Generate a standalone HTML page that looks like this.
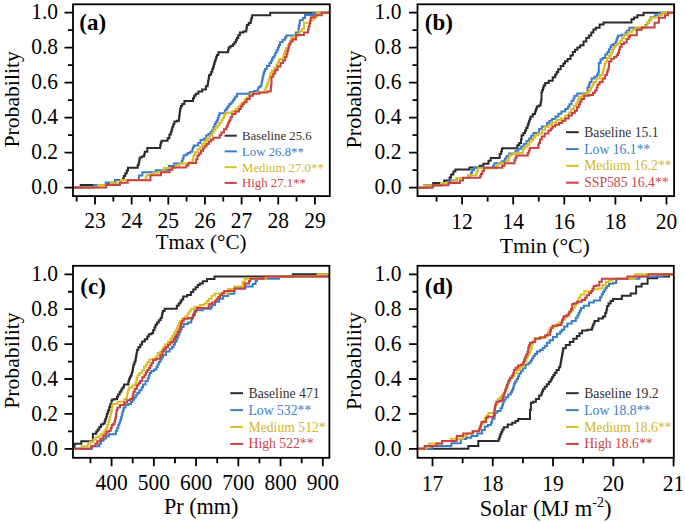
<!DOCTYPE html>
<html><head><meta charset="utf-8"><style>
html,body{margin:0;padding:0;background:#fff;overflow:hidden;}
svg{display:block;}
.t{font-family:"Liberation Serif",serif;fill:#000;}
.pl{font-family:"Liberation Serif",serif;font-weight:bold;fill:#000;}
.lg{font-family:"Liberation Serif",serif;}
</style></head><body>
<svg width="685" height="523" viewBox="0 0 685 523">
<rect width="685" height="523" fill="#fff"/>
<clipPath id="ca"><rect x="73" y="4.3" width="256.8" height="191.8"/></clipPath>
<g clip-path="url(#ca)" fill="none" stroke-width="2.0" stroke-linejoin="miter" stroke-linecap="butt">
<path stroke="#2b2b2b" d="M73.0,187.6H80.7V185.0H106.0V182.7H115.0V180.1H123.0V178.4H123.8V175.9H125.3V173.3H126.1H126.8V170.5H128.0V167.7H128.7H136.9H137.7V165.1H138.4H138.7V162.6H139.2V160.1H139.7V157.6H140.0H141.8V156.5H143.7H144.1V154.2H144.8V151.8H145.2H147.3V148.1H149.4H160.0H160.2V145.2H160.8V142.4H161.0H161.6V140.8H162.1H166.8H167.6V138.2H168.4H169.4V134.5H170.4H170.8V131.9H171.6V129.4H172.3V126.8H172.7H173.3V124.2H174.4V121.5H175.0H176.9V120.7H178.8H179.0V118.2H179.2V115.7H179.6V113.2H179.9V110.7H180.2V108.2H180.3H180.9V106.1H182.2V103.9H182.8H184.4V101.1H186.1H192.5H193.0V98.2H194.1V95.8H194.6H195.7V93.7H196.8H198.4V91.5H200.0H202.2V89.4H204.3H205.9V86.2H207.5H207.7V83.5H208.1V80.8H208.6V78.2H209.0V75.5H209.2H209.9V74.4H210.7H211.2V71.7H212.3V69.0H212.8H213.2V66.5H213.9V64.0H214.6V61.5H215.0H215.3V59.4H216.1V57.2H216.8V55.1H217.1H218.4V52.3H219.7H227.8H228.1V50.0H228.6V47.6H228.9H230.5V46.1H232.1H232.9V44.2H234.5V42.3H235.3H235.9V40.1H236.9V38.0H237.5H238.3V35.3H239.9V32.6H240.7H243.3V31.6H246.0H246.2V29.4H246.6V27.3H246.9V25.1H247.1H248.7V23.0H250.3H250.7V20.6H251.3V18.3H251.7H252.1V15.2H252.6H270.2V12.7H331.0"/>
<path stroke="#3a7cc8" d="M73.0,187.6H94.0V185.0H105.7V182.7H115.4V180.1H138.9V175.5H142.4V172.3H145.8H155.8V170.2H156.3H164.7H168.9V166.0H173.1H173.9V163.4H174.7H181.5H181.9V160.8H182.7V158.6H183.1H183.6V155.5H184.1H185.7V154.4H187.3H187.8V152.9H188.3H190.2V151.8H192.0H192.3V149.7H192.8V147.6H193.1H193.8V145.5H194.6H197.3H198.1V142.9H198.8H200.5V140.0H202.2H204.1V138.5H206.1V135.5H206.8H208.4V133.9H209.9H210.7V132.0H212.2V130.1H212.9H213.5V127.0H214.6V124.0H215.2H215.8V122.1H216.9V120.2H217.5H217.9V117.9H218.7V115.6H219.4V113.3H219.8H223.6H224.8V110.2H225.9H226.5V108.3H227.6V106.4H228.2H229.3V104.1H230.5H231.3V102.2H232.8V100.3H233.6H234.2V98.4H235.3V96.5H235.9H237.1V93.7H238.2H248.9H249.7V91.9H250.4H253.9V91.1H257.3H257.7V89.2H258.4V87.3H258.8H260.0V86.3H261.2H261.4V83.9H261.8V81.5H262.3V79.2H262.7V76.8H262.9H263.4V73.4H263.8H264.2V71.2H265.1V69.1H265.5H266.8V66.1H269.4V63.1H270.7H271.1V61.0H272.0V58.8H272.4H273.2V57.0H274.1H274.5V54.9H275.4V52.8H275.8H276.6V50.2H277.5H277.9V47.6H278.9V45.0H279.3H280.1V41.9H281.0H282.7V39.8H284.4H285.0V37.6H286.4V35.5H287.0H295.8V32.5H298.6V28.2H298.9V25.8H299.5V23.3H299.8V20.2H300.7H302.8V18.1H303.5H305.0V15.1H306.5H313.0V12.7H331.0"/>
<path stroke="#dcbe22" d="M73.0,187.6H98.0V185.0H110.8V182.7H121.0V180.1H145.2H145.6V177.8H146.4V175.5H146.8H148.1V174.7H149.4H153.4V172.8H157.3H158.1V172.0H158.9H161.2V171.3H163.6H164.1V168.1H164.7H173.1H175.3V165.6H179.8V163.4H182.0H187.8H190.1V162.2H192.3H192.6V159.9H193.1V157.6H193.6V155.3H193.8H194.9V152.3H196.1H197.6V149.2H199.2H200.2V146.7H202.2V144.1H204.3V141.6H205.3H206.8V138.5H208.3H209.9V135.5H211.4H212.2V132.8H213.7V130.1H214.5H215.4V127.8H217.4V125.5H218.3H219.2V122.8H221.2V120.2H222.1H222.7V117.9H224.0V115.6H225.3V113.3H225.9H228.2V112.5H230.5H232.4V111.0H234.3H235.7V108.7H238.3V106.4H239.7H240.5V104.5H242.0V102.6H242.8H244.7V99.5H246.6H247.3V97.6H248.8V95.7H249.6H251.1V93.4H252.7H258.0V92.6H263.4H264.5V89.6H265.7V87.2H266.4H266.8V84.9H267.6V82.6H268.5V80.3H268.9H269.2V78.0H269.8V75.7H270.4V73.4H270.7H271.9V70.8H273.2H274.3V67.8H276.4V64.8H277.5H277.9V62.2H278.9V59.6H279.3H281.0V58.8H282.7H283.1V56.2H284.0V53.6H284.9V51.0H285.3H286.1V48.1H287.9V45.3H289.5V42.4H290.4H290.6V40.2H291.1V38.1H291.3H294.3H295.1V36.0H296.0H297.5V34.0H299.0H299.6V31.2H300.1H302.1V28.8H304.0V22.7H304.7H308.3H310.0V20.2H311.7H313.1V18.4H314.5H315.1V17.2H315.7H316.9V12.7H331.0"/>
<path stroke="#c84040" d="M73.0,187.6H106.2V185.0H120.0V182.7H127.7V180.3H150.5V175.3H150.8H161.0V172.3H161.3H169.6V169.7H172.4V167.6H175.2H185.7H186.2V165.5H186.8H188.4V162.9H189.9H195.7H196.2V159.2H196.7H197.5V155.5H198.3H199.2V153.4H200.0H201.1V150.7H202.2H203.0V148.4H204.5V146.2H205.3H206.5V143.9H208.8V141.6H209.9H211.1V139.7H213.3V137.8H214.5H219.0H219.8V135.1H221.3V132.4H222.1H224.0V129.3H225.9H226.4V127.0H227.4V124.8H228.3V122.5H229.3V120.2H229.8H230.6V117.2H232.1V114.1H232.8H235.5V111.5H238.2H239.1V109.0H240.8V106.5H241.7H242.5V104.3H244.1V102.2H244.9H246.6V99.0H248.2H249.8V95.8H251.4H253.0V93.7H254.6H259.4V92.6H264.2H267.4V91.5H270.5H270.7V88.9H271.0V86.3H271.3V83.7H271.5V76.8H272.4H273.2V74.3H274.1H274.5V72.2H275.4V70.0H275.8H277.6V66.5H279.3H280.6V63.1H281.8H283.1V60.5H284.4H285.2V57.0H286.1H286.6V54.0H287.4V51.0H287.9H288.2V48.7H288.8V46.4H289.3V44.1H289.6H290.5V41.6H291.3H292.6V39.6H293.9H296.1V34.9H304.0V32.5H307.7H308.1V29.4H308.8V26.3H309.2H309.6V23.2H310.4V20.2H310.8V17.2H314.5V15.3H321.8V12.7H331.0"/>
</g>
<rect x="73" y="4.3" width="256.8" height="191.8" fill="none" stroke="#000" stroke-width="1.8"/>
<path d="M64.5,187.60H73M68.0,170.11H73M64.5,152.62H73M68.0,135.13H73M64.5,117.64H73M68.0,100.15H73M64.5,82.66H73M68.0,65.17H73M64.5,47.68H73M68.0,30.19H73M64.5,12.70H73M76.67,196.1V201.6M95.00,196.1V204.6M113.33,196.1V201.6M131.65,196.1V204.6M149.97,196.1V201.6M168.30,196.1V204.6M186.62,196.1V201.6M204.95,196.1V204.6M223.27,196.1V201.6M241.60,196.1V204.6M259.92,196.1V201.6M278.25,196.1V204.6M296.57,196.1V201.6M314.90,196.1V204.6" stroke="#000" stroke-width="1.8" fill="none"/>
<text transform="translate(58.0,193.7) scale(1.0,1.07)" text-anchor="end" class="t" font-size="21.5">0.0</text>
<text transform="translate(58.0,158.7) scale(1.0,1.07)" text-anchor="end" class="t" font-size="21.5">0.2</text>
<text transform="translate(58.0,123.7) scale(1.0,1.07)" text-anchor="end" class="t" font-size="21.5">0.4</text>
<text transform="translate(58.0,88.8) scale(1.0,1.07)" text-anchor="end" class="t" font-size="21.5">0.6</text>
<text transform="translate(58.0,53.8) scale(1.0,1.07)" text-anchor="end" class="t" font-size="21.5">0.8</text>
<text transform="translate(58.0,18.8) scale(1.0,1.07)" text-anchor="end" class="t" font-size="21.5">1.0</text>
<text transform="translate(95.0,227.7) scale(1.0,1.07)" text-anchor="middle" class="t" font-size="21.5">23</text>
<text transform="translate(131.7,227.7) scale(1.0,1.07)" text-anchor="middle" class="t" font-size="21.5">24</text>
<text transform="translate(168.3,227.7) scale(1.0,1.07)" text-anchor="middle" class="t" font-size="21.5">25</text>
<text transform="translate(204.9,227.7) scale(1.0,1.07)" text-anchor="middle" class="t" font-size="21.5">26</text>
<text transform="translate(241.6,227.7) scale(1.0,1.07)" text-anchor="middle" class="t" font-size="21.5">27</text>
<text transform="translate(278.2,227.7) scale(1.0,1.07)" text-anchor="middle" class="t" font-size="21.5">28</text>
<text transform="translate(314.9,227.7) scale(1.0,1.07)" text-anchor="middle" class="t" font-size="21.5">29</text>
<text x="201.1" y="249.2" text-anchor="middle" class="t" font-size="21">Tmax (°C)</text>
<text transform="translate(18.9,99.4) rotate(-90)" text-anchor="middle" class="t" font-size="21.7">Probability</text>
<text x="79.3" y="29.7" class="pl" font-size="23">(a)</text>
<path d="M224.6,135.7H236.8" stroke="#2b2b2b" stroke-width="2"/>
<text x="242.0" y="140.1" class="lg" font-size="12.8" fill="#333333">Baseline 25.6</text>
<path d="M224.6,151.4H236.8" stroke="#3a7cc8" stroke-width="2"/>
<text x="242.0" y="155.8" class="lg" font-size="12.8" fill="#3a7cc8">Low 26.8**</text>
<path d="M224.6,167.2H236.8" stroke="#dcbe22" stroke-width="2"/>
<text x="242.0" y="171.6" class="lg" font-size="12.8" fill="#d4b622">Medium 27.0**</text>
<path d="M224.6,182.9H236.8" stroke="#c84040" stroke-width="2"/>
<text x="242.0" y="187.3" class="lg" font-size="12.8" fill="#c84444">High 27.1**</text>
<clipPath id="cb"><rect x="417.5" y="4.3" width="256.6" height="191.8"/></clipPath>
<g clip-path="url(#cb)" fill="none" stroke-width="2.0" stroke-linejoin="miter" stroke-linecap="butt">
<path stroke="#2b2b2b" d="M417.5,187.7H424.0V185.4H433.2V182.9H444.1V180.6H449.0H449.6V177.5H450.3H451.1V174.4H452.0H453.4V171.4H454.7H455.4V169.6H456.0H469.5V167.6H479.8V165.8H480.3H483.4V163.7H486.4H488.5V160.7H490.7V158.0H491.5H498.7H499.7V154.0H500.7H501.1V151.4H501.9V148.9H502.3V148.2H503.1H517.3V145.2H518.1H519.2V142.9H520.4H521.0V139.4H521.6V135.3H522.2H523.4V133.0H524.5H525.1V130.5H526.2V127.9H527.4V125.4H528.0H528.3V123.3H528.9V121.3H529.2H529.7V118.9H530.5V116.6H531.0H532.8V114.0H534.5H535.0V111.5H535.9V109.0H536.8V106.5H537.2H538.8V105.5H540.3H540.6V102.6H541.2V99.7H541.5V92.2H541.8H542.2V89.9H543.0V87.7H543.7V85.4H544.1H545.2V83.1H546.4H548.7V80.8H551.0H552.7V77.3H554.4H555.2V74.6H556.7V72.0H558.2V69.3H559.0H560.7V65.9H562.4H563.3V63.6H565.0V61.3H565.9H567.6V59.0H569.3H570.5V55.6H571.6H572.8V52.1H573.9H575.0V49.8H577.4V47.5H578.5H580.2V45.2H581.9H583.5V41.6H585.0H586.3V38.1H587.6H588.9V35.5H590.2H591.3V32.5H593.4V29.5H594.5H595.8V27.8H597.0H599.6V24.4H602.2H603.5V22.6H604.8H631.5V19.2H632.3H634.0V17.5H635.8H637.4V15.3H643.6V12.7H676.0"/>
<path stroke="#3a7cc8" d="M417.5,187.7H426.0V185.4H441.0V182.9H449.4V180.6H457.0V178.0H468.5V175.3H471.1V172.4H472.1V169.9H473.1H474.1V167.8H475.2H493.1V165.8H494.4V163.2H495.6H499.7H501.8V161.2H503.8H504.8V158.6H505.8H506.6V156.1H507.4H509.1V153.5H510.9H514.0H515.5V150.8H518.4V148.7H519.9H521.2V146.4H523.8V144.1H525.1H526.5V141.1H528.0H529.1V138.4H531.2V135.7H533.4V133.0H534.5H537.4H539.1V128.9H540.9H541.8V126.5H542.6H545.5H547.0V123.0H548.5H549.4V120.7H550.2H552.0V118.9H553.7H555.5V116.6H557.2H558.4V113.7H559.6H561.4V111.4H563.1H565.2V109.0H567.2H567.9V106.7H569.4V104.3H570.1H571.5V100.8H573.0H573.5V98.2H574.5V95.7H575.0H577.3V93.4H579.6H587.5V87.2H588.4H588.9V84.6H589.8V82.0H590.2H591.5V78.6H592.7H594.5V76.8H596.2H596.9V74.7H598.1V72.5H598.8V63.1H599.6H600.5V59.6H601.4H602.6V57.9H603.9H605.2V54.5H606.5H607.4V51.9H609.1V49.3H610.0H610.4V47.1H611.3V45.0H611.7H613.4V44.1H615.1H615.5V42.0H616.4V39.8H616.8H617.2V37.6H618.1V35.5H618.6H621.6V34.7H624.6H625.5V32.5H627.1V30.4H628.0H629.3V27.7H630.6H645.0H645.5V25.0H646.0H647.0V22.7H648.0H648.9V20.2H649.7H650.6V17.3H651.5H655.0V15.3H659.3V12.7H676.0"/>
<path stroke="#dcbe22" d="M417.5,187.7H424.0V185.4H441.1V182.9H453.3V180.6H456.5V178.0H468.2V175.2H476.2H476.4V173.1H476.9V170.9H477.2H478.0V168.3H478.8H484.0H496.0H496.9V165.3H497.7H498.7V163.7H499.7H502.0V162.7H504.3H506.4V160.7H508.4H508.8V158.1H509.5V155.5H509.9H510.9V154.5H512.0H513.5V153.0H515.0H522.7V149.3H522.8H524.1V147.2H526.7V145.2H528.0H529.2V142.3H530.4H531.4V140.0H533.3V137.6H535.2V135.3H536.2H538.2V133.5H540.3H542.0V130.0H543.8H545.2V127.1H546.7H548.5V124.8H550.2H552.0V122.4H553.7H556.4V120.1H559.0H561.0V118.4H563.1H565.2V115.4H567.2H568.7V112.5H570.1H571.2V109.0H572.4H573.8V106.1H575.3H576.0V103.4H577.5V100.8H578.2H578.6V98.8H579.2V96.8H579.6H582.5V94.5H585.4H587.1V92.2H588.8H589.6V89.7H591.1V87.2H591.9H592.5V84.6H593.9V82.0H594.5H596.2V78.6H597.9H600.0V75.1H602.2H602.5V72.8H603.0V70.5H603.6V68.2H603.9H604.2V65.9H604.8V63.7H605.4V61.4H605.7H607.0V57.9H608.2H609.1V55.8H610.8V53.6H611.7H612.1V51.5H613.0V49.3H613.4H614.0V47.1H615.4V45.0H616.0H617.7V43.3H619.4H620.3V40.7H622.0V38.1H622.9H624.1V34.7H625.4H628.0V32.1H630.6H632.4V29.5H634.1H635.4V27.6H636.6H645.0V25.7H645.4H647.2V22.7H649.0V20.2H649.7H651.2V17.5H652.7H658.5H659.0V15.0H659.5H662.0V12.7H676.0"/>
<path stroke="#c84040" d="M417.5,187.7H432.8V185.3H448.5V182.9H459.9V180.5H463.0V177.8H479.8H480.2V175.9H480.9V173.9H481.3H482.4V170.9H483.4H484.1V167.8H484.9H502.3V165.8H502.8H504.6V163.2H506.3H514.0H514.5V160.1H515.0H515.5V157.8H516.6V155.5H517.1H527.3H527.8V153.0H528.3H528.8V150.4H529.3H529.8V148.1H530.4H538.0H538.3V145.5H538.8V142.9H539.1H540.0V139.4H540.9H541.8V136.5H542.6H544.7V133.5H546.7H548.5V130.6H550.2H550.9V128.6H552.4V126.5H553.1H555.2V124.8H557.2H559.0V123.0H560.7H562.2V120.7H563.6H565.4V118.4H567.2H568.7V115.4H570.1H571.9V113.1H573.6H574.8V110.8H575.9H577.0V107.3H578.2H578.8V104.6H580.1V101.8H581.4V99.1H582.0H584.2V95.7H586.5H589.2V94.9H591.9H593.0V92.8H595.1V90.6H596.2H596.6V87.6H597.5V84.6H597.9H599.6V82.0H601.4H602.6V78.6H603.9H605.2V75.1H606.5H606.9V72.2H607.8V69.4H608.7V66.5H609.1V61.4H610.0H611.2V58.8H612.5H614.2V57.1H616.0H616.6V55.0H618.0V52.8H618.6H619.0V49.8H619.9V46.7H620.3H621.6V44.1H622.9H624.1V42.4H625.4H626.7V39.0H628.0H628.6V37.1H630.0V35.2H630.6H636.8V29.7H641.7V27.6H654.6V22.7H658.9V17.8H665.0V15.3H668.0V12.7H676.0"/>
</g>
<rect x="417.5" y="4.3" width="256.6" height="191.8" fill="none" stroke="#000" stroke-width="1.8"/>
<path d="M409.0,187.70H417.5M412.5,170.20H417.5M409.0,152.70H417.5M412.5,135.20H417.5M409.0,117.70H417.5M412.5,100.20H417.5M409.0,82.70H417.5M412.5,65.20H417.5M409.0,47.70H417.5M412.5,30.20H417.5M409.0,12.70H417.5M436.55,196.1V201.6M462.10,196.1V204.6M487.65,196.1V201.6M513.20,196.1V204.6M538.75,196.1V201.6M564.30,196.1V204.6M589.85,196.1V201.6M615.40,196.1V204.6M640.95,196.1V201.6M666.50,196.1V204.6" stroke="#000" stroke-width="1.8" fill="none"/>
<text transform="translate(401.4,193.8) scale(1.0,1.07)" text-anchor="end" class="t" font-size="21.5">0.0</text>
<text transform="translate(401.4,158.8) scale(1.0,1.07)" text-anchor="end" class="t" font-size="21.5">0.2</text>
<text transform="translate(401.4,123.8) scale(1.0,1.07)" text-anchor="end" class="t" font-size="21.5">0.4</text>
<text transform="translate(401.4,88.8) scale(1.0,1.07)" text-anchor="end" class="t" font-size="21.5">0.6</text>
<text transform="translate(401.4,53.8) scale(1.0,1.07)" text-anchor="end" class="t" font-size="21.5">0.8</text>
<text transform="translate(401.4,18.8) scale(1.0,1.07)" text-anchor="end" class="t" font-size="21.5">1.0</text>
<text transform="translate(462.1,228.6) scale(1.0,1.07)" text-anchor="middle" class="t" font-size="21.5">12</text>
<text transform="translate(513.2,228.6) scale(1.0,1.07)" text-anchor="middle" class="t" font-size="21.5">14</text>
<text transform="translate(564.3,228.6) scale(1.0,1.07)" text-anchor="middle" class="t" font-size="21.5">16</text>
<text transform="translate(615.4,228.6) scale(1.0,1.07)" text-anchor="middle" class="t" font-size="21.5">18</text>
<text transform="translate(666.5,228.6) scale(1.0,1.07)" text-anchor="middle" class="t" font-size="21.5">20</text>
<text x="544.8" y="252.7" text-anchor="middle" class="t" font-size="21.7">Tmin (°C)</text>
<text transform="translate(360.7,99.5) rotate(-90)" text-anchor="middle" class="t" font-size="22">Probability</text>
<text x="424.8" y="29.8" class="pl" font-size="23">(b)</text>
<path d="M566,132.2H578.7" stroke="#2b2b2b" stroke-width="2"/>
<text x="584.2" y="136.8" class="lg" font-size="13.7" fill="#333333">Baseline 15.1</text>
<path d="M566,149.1H578.7" stroke="#3a7cc8" stroke-width="2"/>
<text x="584.2" y="153.6" class="lg" font-size="13.7" fill="#3a7cc8">Low 16.1**</text>
<path d="M566,165.8H578.7" stroke="#dcbe22" stroke-width="2"/>
<text x="584.2" y="170.3" class="lg" font-size="13.7" fill="#d4b622">Medium 16.2**</text>
<path d="M566,182.7H578.7" stroke="#c84040" stroke-width="2"/>
<text x="584.2" y="187.2" class="lg" font-size="13.7" fill="#c84444">SSP585 16.4**</text>
<clipPath id="cc"><rect x="73" y="265.8" width="256.4" height="192.0"/></clipPath>
<g clip-path="url(#cc)" fill="none" stroke-width="2.0" stroke-linejoin="miter" stroke-linecap="butt">
<path stroke="#2b2b2b" d="M73.0,448.8H74.5V443.8H81.3V441.3H92.9V433.8H93.4H95.4H96.2V431.4H97.7V429.4H98.4H99.3V426.9H101.0V424.4H101.9H103.1V423.4H104.3H104.7V421.1H105.4V418.9H105.8H106.2V416.4H106.9V413.9H107.3H107.7V411.9H108.4V410.0H108.8H109.3V407.0H110.3V404.0H110.8H111.5V400.5H112.3V399.6H112.9H114.7V398.9H116.5H117.0V396.8H118.1V394.6H118.6H119.7V391.7H120.8H121.3V389.5H122.4V387.4H122.9H124.0V384.5H125.1H128.0H128.3V381.4H129.1V378.8H129.4H130.1V376.6H130.8H131.2V374.5H131.9V372.3H132.3H132.5V369.7H133.0V367.0H133.5V364.4H133.7H134.4V362.3H135.1H135.3V359.9H135.8V357.4H136.2V355.0H136.6V352.5H137.1V350.1H137.3H138.4V347.2H139.4H140.3V344.4H142.1V341.5H143.0H144.8V339.3H146.6H147.3V336.5H148.0H148.8V334.3H149.5H151.3V333.2H153.1V330.2H153.8H154.4V327.5H155.5V324.8H156.1H157.0V322.5H158.8V320.2H160.6V317.9H161.5H161.8V315.6H162.2V313.3H162.8V311.0H163.0H164.6V308.7H166.1H176.0H176.8V305.7H177.6H178.7V303.4H179.8H180.4V301.5H181.5V299.6H182.1H183.2V296.5H184.4H187.1V295.0H189.8H190.9V291.9H192.1H193.2V289.6H194.4H195.6V287.3H197.8V285.0H199.0H199.8V283.5H200.5H202.8V281.2H205.1H207.0V278.9H208.9H214.5V276.4H215.1H292.8V274.2H331.0"/>
<path stroke="#3a7cc8" d="M73.0,448.8H91.9V446.3H99.4V443.8H100.9V440.8H102.4H103.6V438.6H106.1V436.3H107.3H109.0V434.3H110.8H114.8H115.8V430.8H116.8H117.3V427.9H118.3V424.9H118.8H119.3V422.4H120.3V419.9H120.8H121.1V417.2H121.8V414.6H122.4V411.9H122.7H123.1V409.7H123.8V407.5H124.2H125.5V405.0H126.7H128.4V404.0H130.2H130.9V402.0H131.7H132.5V399.7H134.2V397.4H135.1H135.8V395.2H137.3V393.1H138.0H139.4V390.3H140.9H141.6V387.4H143.0V384.5H143.7H145.5V380.9H147.3H147.8V378.3H148.8V375.6H149.7V373.0H150.2H151.2V370.9H152.3H154.1V369.5H155.9H156.4V366.9H157.6V364.4H158.1H158.8V361.9H160.3V359.4H161.0H161.7V357.2H163.1V355.1H163.8H165.9V351.5H168.1H169.6V348.7H171.0H172.0V347.0H173.0H173.6V344.5H174.9V341.9H176.2V339.4H176.8H177.3V336.9H178.4V334.5H179.4V332.0H180.5V329.6H181.6V327.1H182.1H183.6V324.0H185.2H187.9V322.5H190.6H191.2V319.4H192.3V316.4H192.9H193.5V313.4H194.6V310.3H195.2H202.8V308.7H210.5H211.1V306.8H212.2V304.9H212.8H215.1V301.8H217.3H219.2V298.8H221.2H223.1V296.0H225.0H227.9V293.7H233.8H234.3V288.6H245.4V286.4H252.7V283.9H255.5V281.0H257.0V278.8H278.9V276.4H331.0"/>
<path stroke="#dcbe22" d="M73.0,448.8H81.5V446.3H87.9V443.8H90.2V441.8H92.4H93.5V439.6H95.8V437.3H96.9H98.2V436.3H99.4H100.8V434.1H103.5V431.8H104.8H105.3V429.9H106.3V427.9H106.8H107.3V424.9H108.3V421.9H108.8H109.2V419.4H109.9V416.9H110.3H110.5V414.6H111.0V412.3H111.5V410.0H111.8H112.0V407.0H112.5V404.0H112.8H117.5V401.7H122.2H124.3V398.9H126.5H126.8V396.0H127.2V393.2H127.8V390.3H128.0H129.1V387.4H130.1H132.6V385.2H135.1H135.5V382.7H136.2V380.2H136.9V377.7H137.6V375.2H138.0H139.4V373.0H140.9H141.9V370.2H143.0H144.1V366.6H145.2H145.9V364.5H147.3V362.3H148.0H149.4V359.4H150.9H152.7V358.7H154.5H155.6V356.5H156.6H157.7V353.0H158.8H160.2V351.6H161.5H162.1V349.4H163.2V347.2H163.8H165.2V344.3H166.7H168.1V341.5H169.6H170.6V338.6H171.7H172.4V335.7H173.1H174.2V332.5H175.3H175.8V330.2H176.8V327.9H177.8V325.6H178.3H178.9V323.3H180.0V321.0H180.6H182.1V318.7H185.2V316.4H186.7H187.3V314.5H188.4V312.6H189.0H189.8V310.6H191.3V308.7H192.1H194.8V306.8H200.1V304.9H202.8H204.4V303.4H205.9H206.8V301.1H208.8V298.8H209.7H211.6V295.7H213.5H214.7V293.4H215.8H227.9V289.0H234.5V286.4H242.5V281.7H244.7V278.8H266.0V276.4H317.6V274.2H331.0"/>
<path stroke="#c84040" d="M73.0,448.8H90.9V446.3H95.4V443.8H97.2V441.3H98.9H100.4V438.8H101.9H103.3V435.8H104.8H105.4V433.8H106.7V431.8H107.3H108.8V430.8H110.3H110.8V427.9H111.8V424.9H112.3H113.3V423.9H114.3H114.5V421.7H115.0V419.6H115.5V417.4H115.8H116.0V414.9H116.3V412.5H116.6V410.0H116.8H117.5V407.5H118.3H120.0V405.0H121.8H124.2V402.5H126.5H127.2V400.3H128.0H130.2V398.9H132.3H132.5V396.5H133.0V394.1H133.5V391.7H133.7H134.8V388.8H135.8H136.9V385.2H138.0H138.7V383.0H140.2V380.9H140.9H142.3V377.3H143.7H144.4V374.8H145.9V372.3H146.6H147.3V370.1H148.8V368.0H149.5H150.2V365.5H151.6V363.0H152.3H153.1V360.1H153.8H156.3V358.7H158.8H160.2V355.1H161.7H162.3V351.6H163.0H163.9V349.3H165.9V347.0H166.8H168.0V344.7H170.2V342.4H171.4H172.2V341.5H173.1H173.7V339.3H174.9V337.0H176.2V334.8H176.8H177.6V332.1H179.1V329.4H179.8H180.2V326.4H181.0V323.3H181.4H182.2V321.0H183.7V318.7H184.4H188.2V317.9H192.1H193.1V314.9H194.9V311.8H195.9H196.3V309.9H197.1V308.0H197.5H208.2H208.6V306.1H209.3V304.1H209.7H212.0V302.6H214.3H215.1V300.7H216.6V298.8H217.3H218.3V296.9H220.2V295.0H221.2H222.1V293.1H224.1V291.1H225.0H234.5V288.6H244.7V283.5H249.1V281.0H250.5V278.8H263.7V276.4H331.0"/>
</g>
<rect x="73" y="265.8" width="256.4" height="192.0" fill="none" stroke="#000" stroke-width="1.8"/>
<path d="M64.5,448.80H73M68.0,431.35H73M64.5,413.90H73M68.0,396.45H73M64.5,379.00H73M68.0,361.55H73M64.5,344.10H73M68.0,326.65H73M64.5,309.20H73M68.0,291.75H73M64.5,274.30H73M90.48,457.8V463.3M111.60,457.8V466.3M132.72,457.8V463.3M153.84,457.8V466.3M174.96,457.8V463.3M196.08,457.8V466.3M217.20,457.8V463.3M238.32,457.8V466.3M259.44,457.8V463.3M280.56,457.8V466.3M301.68,457.8V463.3M322.80,457.8V466.3" stroke="#000" stroke-width="1.8" fill="none"/>
<text transform="translate(58.0,455.5) scale(1.0,1.07)" text-anchor="end" class="t" font-size="21.5">0.0</text>
<text transform="translate(58.0,420.6) scale(1.0,1.07)" text-anchor="end" class="t" font-size="21.5">0.2</text>
<text transform="translate(58.0,385.7) scale(1.0,1.07)" text-anchor="end" class="t" font-size="21.5">0.4</text>
<text transform="translate(58.0,350.8) scale(1.0,1.07)" text-anchor="end" class="t" font-size="21.5">0.6</text>
<text transform="translate(58.0,315.9) scale(1.0,1.07)" text-anchor="end" class="t" font-size="21.5">0.8</text>
<text transform="translate(58.0,281.0) scale(1.0,1.07)" text-anchor="end" class="t" font-size="21.5">1.0</text>
<text transform="translate(111.6,490.1) scale(1.0,1.07)" text-anchor="middle" class="t" font-size="21.5">400</text>
<text transform="translate(153.8,490.1) scale(1.0,1.07)" text-anchor="middle" class="t" font-size="21.5">500</text>
<text transform="translate(196.1,490.1) scale(1.0,1.07)" text-anchor="middle" class="t" font-size="21.5">600</text>
<text transform="translate(238.3,490.1) scale(1.0,1.07)" text-anchor="middle" class="t" font-size="21.5">700</text>
<text transform="translate(280.6,490.1) scale(1.0,1.07)" text-anchor="middle" class="t" font-size="21.5">800</text>
<text transform="translate(322.8,490.1) scale(1.0,1.07)" text-anchor="middle" class="t" font-size="21.5">900</text>
<text x="201.2" y="513.8" text-anchor="middle" class="t" font-size="22.2">Pr (mm)</text>
<text transform="translate(18.9,360.6) rotate(-90)" text-anchor="middle" class="t" font-size="21.7">Probability</text>
<text x="80.3" y="293.8" class="pl" font-size="23">(c)</text>
<path d="M230.25,393.2H243" stroke="#2b2b2b" stroke-width="2"/>
<text x="248.5" y="397.7" class="lg" font-size="13.7" fill="#333333">Baseline 471</text>
<path d="M230.25,410.1H243" stroke="#3a7cc8" stroke-width="2"/>
<text x="248.5" y="414.6" class="lg" font-size="13.7" fill="#3a7cc8">Low 532**</text>
<path d="M230.25,427.0H243" stroke="#dcbe22" stroke-width="2"/>
<text x="248.5" y="431.5" class="lg" font-size="13.7" fill="#d4b622">Medium 512*</text>
<path d="M230.25,443.9H243" stroke="#c84040" stroke-width="2"/>
<text x="248.5" y="448.4" class="lg" font-size="13.7" fill="#c84444">High 522**</text>
<clipPath id="cd"><rect x="417.5" y="265.8" width="256.3" height="192.0"/></clipPath>
<g clip-path="url(#cd)" fill="none" stroke-width="2.0" stroke-linejoin="miter" stroke-linecap="butt">
<path stroke="#2b2b2b" d="M417.5,448.8H468.4V445.9H478.3V441.1H498.2H498.6V438.8H499.6V436.4H500.0H500.4V434.1H501.4V431.8H501.8H502.5V429.6H503.8V427.3H504.5H507.7V424.5H510.9H512.2V422.7H513.6H515.5V420.9H517.3H518.2V419.1H519.1H530.0V410.0H530.9V402.7H531.8H533.1V401.8H534.5H535.9V399.1H537.3H539.1V395.5H540.9H541.4V393.4H542.2V391.2H543.1V389.1H543.6H544.7V386.7H546.8V384.2H548.9V381.8H550.0H550.7V379.6H552.0V377.3H552.7H553.4V375.0H554.8V372.7H555.5H556.6V370.0H558.9V367.3H560.0H560.2V364.8H560.7V362.3H561.1V359.8H561.6V357.3H561.8H562.0V355.1H562.4V352.8H562.8V350.6H563.2V348.3H563.4H565.8V345.1H568.2H569.8V341.9H571.4H573.4V338.7H575.4H576.8V336.0H579.5V333.3H582.1V330.6H583.5H587.5V329.8H591.5H591.9V327.7H592.7V325.5H593.5V323.4H593.9H594.5V320.9H595.0H598.4V318.4H601.8H603.0V316.6H604.3H605.2V312.9H606.1H606.3V310.6H606.8V308.3H607.2V306.0H607.4H608.5V303.6H610.6V301.1H611.7H613.0V299.0H614.2H621.9V295.7H630.7V293.5H636.1V289.0V286.4H637.0H641.6V283.7H647.6V278.2H657.0V276.6H669.0V274.3H676.0"/>
<path stroke="#3a7cc8" d="M417.5,448.8H432.3V446.1H450.9H451.4V443.2H452.0H457.9H460.8V438.9H463.7H466.0V437.7H468.4H471.3V436.0H474.2H477.4V433.6H480.6H482.1V430.1H483.6H484.8V426.6H485.9H487.9V425.0H490.0H490.9V422.5H491.7H492.2V419.1H492.7H493.4V418.4H494.1H494.5V415.5H495.1V412.7H495.5H497.3V410.9H499.1H500.5V408.2H501.8H502.1V406.1H502.7V403.9H503.3V401.8H503.6H504.3V399.6H505.7V397.3H506.4H508.2V394.5H510.0H510.7V392.2H512.0V390.0H512.7H513.0V387.9H513.6V385.7H514.2V383.6H514.5H515.2V381.4H516.6V379.1H517.3H518.0V376.4H519.3V373.6H520.0H520.9V370.9H522.7V368.2H523.6H525.5V364.5H527.3H528.6V362.7H530.0H530.7V360.4H532.0V358.2H532.7H533.4V356.1H534.8V354.0H535.5H537.0V351.5H538.5H540.1V349.9H541.7H542.7V347.9H544.7V345.9H545.7H546.9V342.7H548.1H549.7V340.3H551.3H552.9V337.1H554.5H557.0V333.8H559.4H560.2V331.8H561.8V329.8H562.6H564.2V326.6H565.8H567.4V323.4H569.0H571.8V321.0H574.6H575.8V317.8H577.0H577.5V315.4H578.6V313.0H579.7V310.6H580.2H581.0V308.1H581.8H583.8V305.7H585.9H589.1V302.5H592.3H593.9V300.6H595.5H599.3H600.1V297.3H601.6V294.2H602.4H603.0V292.0H604.3V289.9H604.9H605.5V288.0H606.8V286.1H607.4H609.0V283.7H610.5H613.0V283.0H615.5H616.1V280.6H616.7V278.8H617.0H639.4V276.6H662.4V274.3H676.0"/>
<path stroke="#dcbe22" d="M417.5,448.8H426.3V446.1H429.3V443.5H442.5V441.1H450.9V438.8H463.0V436.0H467.0V433.6H471.9V431.3H478.5H478.9V429.0H479.7V426.6H480.1H481.2V423.7H482.4H483.3V420.8H485.0V417.8H485.9H486.8V415.4H488.5V413.0H489.4H494.0H494.3V410.4H494.9V407.9H495.5V405.3H496.1V402.7H496.4H497.8V399.1H499.1H500.0V397.0H501.8V394.8H503.6V392.7H504.5H505.0V390.6H505.9V388.5H506.8V386.4H507.3H507.8V383.6H508.7V380.9H509.1H510.5V378.2H511.8H512.7V375.9H514.6V373.6H515.5H516.9V370.0H518.2H520.0V367.3H521.8H522.4V365.2H523.6V363.0H524.9V360.9H525.5H526.2V358.2H527.5V355.5H528.2H528.9V352.8H530.2V350.0H530.9H531.2V347.3H532.0V344.7H532.6V342.0H533.0H533.6V339.9H534.7V337.9H535.3H540.5V337.1H545.7H546.4V334.7H547.8V332.2H549.2V329.8H550.6V327.4H551.3H553.3V326.6H555.3H556.5V324.6H559.0V322.6H560.2H562.2V319.4H564.2H565.2V317.0H567.2V314.6H568.2H569.2V312.6H571.2V310.6H572.2H573.0V308.1H574.6V305.7H575.4H576.0V303.3H577.2V300.9H577.8H578.6V297.7H579.4H580.6V294.5H581.8H584.2V291.3H586.7H590.7H592.9V289.3H595.0H597.8V288.6H600.6H602.5V284.9H604.3H605.8V281.8H607.4H609.2V280.6H611.1H612.5V278.8H614.0H635.0V274.3H676.0"/>
<path stroke="#c84040" d="M417.5,448.8H424.6V446.1H436.3V443.6H442.1V441.1H456.7V436.0H463.1V433.6H473.0V431.3H478.9H479.3V429.0H480.2V426.6H480.6H480.9V424.2H481.5V421.9H481.8H485.3H486.2V417.8H487.1H487.6V416.7H488.2H493.6H493.8V414.0H494.2V411.6H494.6V409.3H494.9V406.9H495.3V404.5H495.5H496.4V401.8H497.3H499.6V400.9H501.8H502.2V398.5H503.1V396.0H504.1V393.6H504.5H504.8V391.5H505.4V389.4H506.1V387.3H506.4H506.8V384.9H507.8V382.4H508.7V380.0H509.1H510.0V377.8H511.8V375.5H512.7H513.2V372.8H514.0V370.0H514.5H515.6V367.8H518.0V365.5H519.1H520.9V364.5H522.7H523.2V362.1H524.1V359.7H525.0V357.3H525.5H526.2V354.6H527.5V351.8H528.2V347.5H528.8H529.2V345.1H530.0V342.7H530.4H532.5V341.9H534.5H535.3V338.7H536.1H540.1V337.5H544.1H544.9V335.5H545.7H547.7V334.7H549.7H550.0V332.5H550.5V330.4H551.0V328.2H551.3H552.5V325.8H553.7H557.4V325.0H561.0H561.4V322.6H562.2V320.2H562.6H563.0V318.2H563.8V316.2H564.2H566.2V315.4H568.2H568.6V313.4H569.4V311.4H569.8H571.0V309.0H572.2V304.1H573.0H574.2V303.3H575.4H577.4V301.7H579.4H581.8V300.1H584.3H585.1V297.7H586.7V295.3H587.5H589.1V292.9H590.7H591.3V291.1H591.9H592.5V288.6H593.7V286.1H594.3H596.2V285.5H598.1H599.4V281.8H600.6H601.8V278.8H603.0H627.4V276.6H648.2V274.3H676.0"/>
</g>
<rect x="417.5" y="265.8" width="256.3" height="192.0" fill="none" stroke="#000" stroke-width="1.8"/>
<path d="M409.0,448.80H417.5M412.5,431.35H417.5M409.0,413.90H417.5M412.5,396.45H417.5M409.0,379.00H417.5M412.5,361.55H417.5M409.0,344.10H417.5M412.5,326.65H417.5M409.0,309.20H417.5M412.5,291.75H417.5M409.0,274.30H417.5M432.50,457.8V466.3M462.64,457.8V463.3M492.77,457.8V466.3M522.91,457.8V463.3M553.05,457.8V466.3M583.19,457.8V463.3M613.33,457.8V466.3M643.46,457.8V463.3M673.60,457.8V466.3" stroke="#000" stroke-width="1.8" fill="none"/>
<text transform="translate(401.4,455.5) scale(1.0,1.07)" text-anchor="end" class="t" font-size="21.5">0.0</text>
<text transform="translate(401.4,420.6) scale(1.0,1.07)" text-anchor="end" class="t" font-size="21.5">0.2</text>
<text transform="translate(401.4,385.7) scale(1.0,1.07)" text-anchor="end" class="t" font-size="21.5">0.4</text>
<text transform="translate(401.4,350.8) scale(1.0,1.07)" text-anchor="end" class="t" font-size="21.5">0.6</text>
<text transform="translate(401.4,315.9) scale(1.0,1.07)" text-anchor="end" class="t" font-size="21.5">0.8</text>
<text transform="translate(401.4,281.0) scale(1.0,1.07)" text-anchor="end" class="t" font-size="21.5">1.0</text>
<text transform="translate(432.5,490.6) scale(1.0,1.07)" text-anchor="middle" class="t" font-size="21.5">17</text>
<text transform="translate(492.8,490.6) scale(1.0,1.07)" text-anchor="middle" class="t" font-size="21.5">18</text>
<text transform="translate(553.0,490.6) scale(1.0,1.07)" text-anchor="middle" class="t" font-size="21.5">19</text>
<text transform="translate(613.3,490.6) scale(1.0,1.07)" text-anchor="middle" class="t" font-size="21.5">20</text>
<text transform="translate(673.6,490.6) scale(1.0,1.07)" text-anchor="middle" class="t" font-size="21.5">21</text>
<text x="545.7" y="516.4" text-anchor="middle" class="t" font-size="22.5">Solar (MJ m<tspan dy="-9.5" font-size="14">-2</tspan><tspan dy="9.5">)</tspan></text>
<text transform="translate(360.7,361) rotate(-90)" text-anchor="middle" class="t" font-size="22">Probability</text>
<text x="424.8" y="293.8" class="pl" font-size="23">(d)</text>
<path d="M566,393.2H578.7" stroke="#2b2b2b" stroke-width="2"/>
<text x="584.2" y="397.7" class="lg" font-size="13.7" fill="#333333">Baseline 19.2</text>
<path d="M566,410.1H578.7" stroke="#3a7cc8" stroke-width="2"/>
<text x="584.2" y="414.6" class="lg" font-size="13.7" fill="#3a7cc8">Low 18.8**</text>
<path d="M566,427.0H578.7" stroke="#dcbe22" stroke-width="2"/>
<text x="584.2" y="431.5" class="lg" font-size="13.7" fill="#d4b622">Medium 18.6**</text>
<path d="M566,443.9H578.7" stroke="#c84040" stroke-width="2"/>
<text x="584.2" y="448.4" class="lg" font-size="13.7" fill="#c84444">High 18.6**</text>
</svg>
</body></html>
